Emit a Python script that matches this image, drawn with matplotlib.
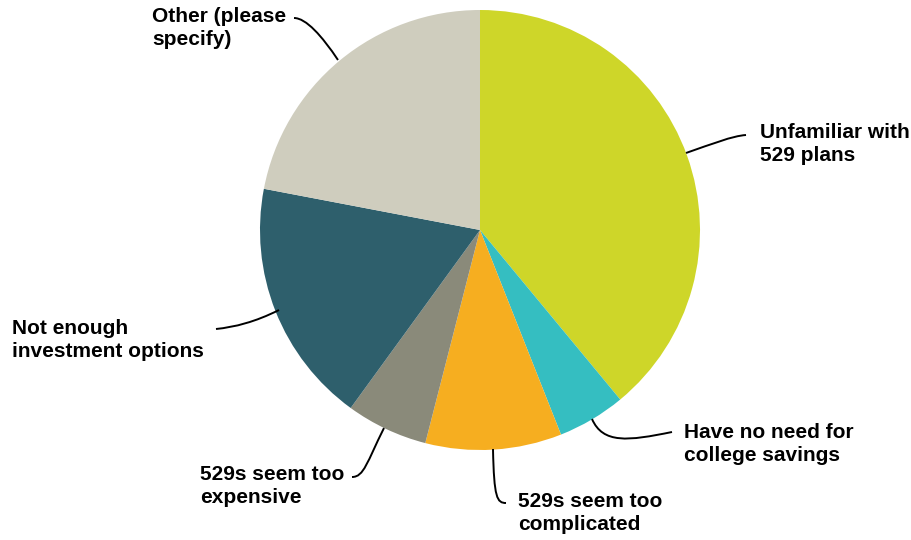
import matplotlib.pyplot as plt
from matplotlib.path import Path
from matplotlib.patches import PathPatch

plt.rcParams['font.family'] = ['Liberation Sans', 'DejaVu Sans']

# Reasons for not using a 529 plan (share of respondents, %)
labels = ['Unfamiliar with\n529 plans', 'Have no need for\ncollege savings',
          '529s seem too\ncomplicated', '529s seem too\nexpensive',
          'Not enough\ninvestment options', 'Other (please\nspecify)']
shares = [39, 5, 10, 6, 18, 22]
colors = ['#CED629', '#35BEC1', '#F6AE20', '#8A8A7A', '#2E5F6C', '#CFCDBE']

# label anchors (left x, center y) in pixel coords, y measured from the top
label_pos = [(760, 144), (684, 444), (518, 513),
             (200, 486), (12, 340), (152, 28)]
# leader lines as cubic curves: start on wedge, two controls, end near text
leaders = [
    [(686, 153), (712, 144), (732, 136), (746, 135)],
    [(592, 419), (603, 444), (628, 441), (672, 432)],
    [(493, 449), (494, 498), (497, 503), (506, 503)],
    [(384, 428), (367, 462), (364, 477), (352, 477)],
    [(279, 310), (255, 322), (235, 327), (216, 329)],
    [(338, 60), (322, 36), (306, 18), (294, 18)],
]

fig = plt.figure(figsize=(9.12, 5.40), dpi=100)
ax = fig.add_axes([0, 0, 1, 1])

H = 540
ax.pie(shares, colors=colors, startangle=90, counterclock=False,
       center=(480, H - 230), radius=220, frame=True,
       wedgeprops=dict(linewidth=0))

codes = [Path.MOVETO, Path.CURVE4, Path.CURVE4, Path.CURVE4]
for pts in leaders:
    verts = [(x, H - y) for x, y in pts]
    ax.add_patch(PathPatch(Path(verts, codes), facecolor='none',
                           edgecolor='black', lw=1.4))

for text, (x, y) in zip(labels, label_pos):
    ax.text(x, H - y, text, ha='left', va='center', fontsize=15,
            fontweight='bold', linespacing=1.3, color='black')

ax.set_xlim(0, 912)
ax.set_ylim(0, H)
ax.set_aspect('equal')
ax.axis('off')

plt.savefig('out.png', dpi=100)
plt.close()
